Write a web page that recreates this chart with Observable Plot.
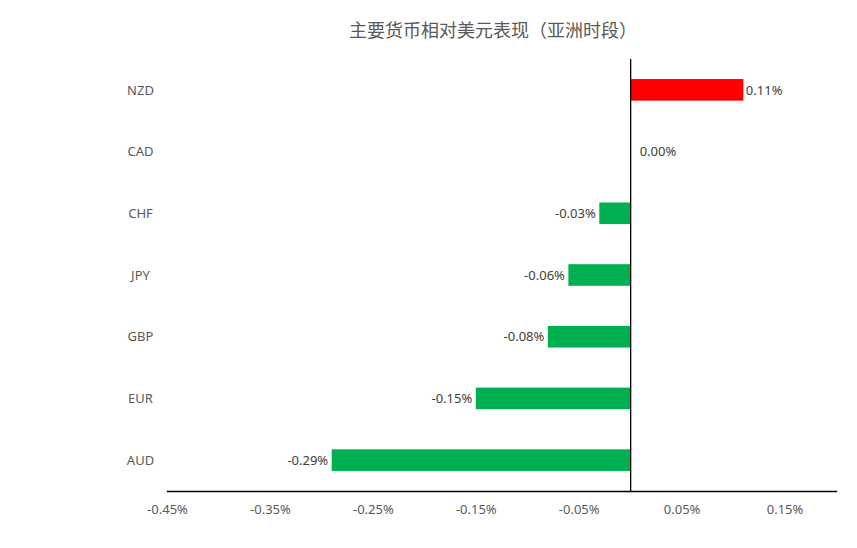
<!DOCTYPE html>
<html>
<head>
<meta charset="utf-8">
<script src="https://cdn.jsdelivr.net/npm/d3@7"></script>
<script src="https://cdn.jsdelivr.net/npm/@observablehq/plot@0.6"></script>
<style>
  body { margin: 0; background: #fff; }
  #title { width: 857px; box-sizing: border-box; padding-left: 129px; padding-top: 16px; height: 50px;
    text-align: center; font-family: "Noto Sans CJK SC", sans-serif; font-size: 18px; line-height: 26px; color: #595959; }
</style>
</head>
<body>
<div id="title">主要货币相对美元表现（亚洲时段）</div>
<div id="chart"></div>
<script>
const currencies = ["NZD", "CAD", "CHF", "JPY", "GBP", "EUR", "AUD"];
const changes = [0.11, 0.00, -0.03, -0.06, -0.08, -0.15, -0.29];
const xTicks = [-0.45, -0.35, -0.25, -0.15, -0.05, 0.05, 0.15];

const data = currencies.map((c, i) => ({currency: c, value: changes[i]}));
const fmt = v => v.toFixed(2) + "%";

const plot = Plot.plot({
  width: 857,
  height: 498,
  marginTop: 9,
  marginBottom: 57,
  marginLeft: 167,
  marginRight: 21,
  style: {fontFamily: "'Noto Sans', sans-serif", fontSize: "13px", color: "#595959", background: "#fff"},
  x: {domain: [-0.45, 0.20], ticks: xTicks, tickFormat: fmt},
  y: {domain: currencies, paddingInner: 0.65, paddingOuter: 0.325, round: false},
  marks: [
    Plot.barX(data, {x: "value", y: "currency", fill: d => d.value > 0 ? "#FF0000" : "#00B050"}),
    Plot.ruleX([0], {stroke: "#000", strokeWidth: 1.3}),
    Plot.frame({anchor: "bottom", stroke: "#000", strokeWidth: 1.3}),
    Plot.axisX({ticks: xTicks, tickFormat: fmt, tickSize: 0, tickPadding: 13, label: null, fill: "#595959"}),
    Plot.axisY({tickSize: 0, tickPadding: 27, textAnchor: "middle", label: null, fill: "#595959"}),
    Plot.text(data.filter(d => d.value < 0), {x: "value", y: "currency", text: d => fmt(d.value), textAnchor: "end", dx: -4, fill: "#404040", fontSize: 13}),
    Plot.text(data.filter(d => d.value > 0), {x: "value", y: "currency", text: d => fmt(d.value), textAnchor: "start", dx: 2, fill: "#404040", fontSize: 13}),
    Plot.text(data.filter(d => d.value === 0), {x: "value", y: "currency", text: d => fmt(d.value), textAnchor: "start", dx: 9, fill: "#404040", fontSize: 13})
  ]
});
document.getElementById("chart").appendChild(plot);
</script>
</body>
</html>
